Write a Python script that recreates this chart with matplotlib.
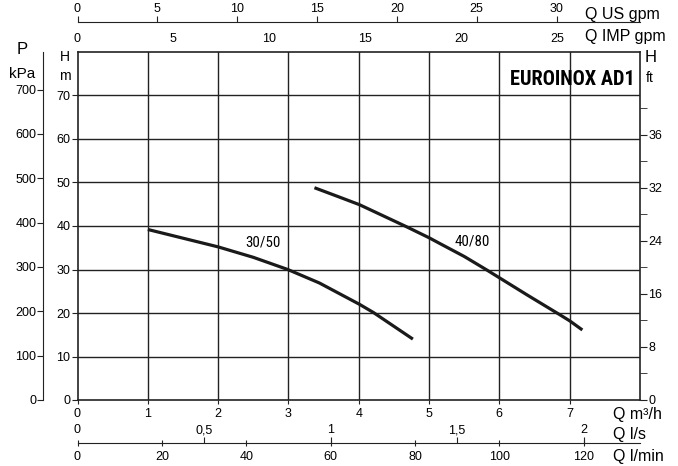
import numpy as np
import matplotlib
matplotlib.use("Agg")
import matplotlib.pyplot as plt
from matplotlib import font_manager as fm

plt.rcParams['font.family'] = ['Liberation Sans', 'DejaVu Sans']

# curve readings, Q in m3/h, H in m
q_3050 = [1.0, 1.5, 2.0, 2.5, 2.99, 3.44, 4.01, 4.21, 4.77]
h_3050 = [39.2, 37.2, 35.2, 32.8, 30.0, 26.9, 22.0, 20.1, 14.0]
q_4080 = [3.37, 3.7, 4.01, 4.67, 5.0, 5.15, 5.5, 5.81, 6.0, 6.4, 6.85, 7.0, 7.18]
h_4080 = [48.8, 46.8, 44.9, 39.9, 37.3, 36.0, 33.0, 30.0, 28.1, 24.1, 19.7, 18.2, 16.1]

m3h_ticks = [0, 1, 2, 3, 4, 5, 6, 7]
us_ticks = [0, 5, 10, 15, 20, 25, 30]
imp_ticks = [0, 5, 10, 15, 20, 25]
ls_ticks = [0.5, 1, 1.5, 2]
ls_labels = ['0,5', '1', '1,5', '2']
lmin_ticks = [0, 20, 40, 60, 80, 100, 120]
h_ticks = [0, 10, 20, 30, 40, 50, 60, 70]
kpa_ticks = [0, 100, 200, 300, 400, 500, 600, 700]
ft_major = [0, 40, 80, 120, 160, 200]
ft_labels = ['0', '8', '16', '24', '32', '36']
ft_minor = [20, 60, 100, 140, 180, 220]

W, H = 678, 466
fig = plt.figure(figsize=(W / 100, H / 100), dpi=100)


def fx(px):
    return px / W


def fy(py):
    return 1 - py / H


#find a narrow font if there is one
def narrow_font(weight='normal'):
    for fam in ['Liberation Sans Narrow', 'Roboto Condensed', 'Open Sans Condensed',
                'Noto Sans Condensed', 'Arial Narrow']:
        try:
            fm.findfont(fm.FontProperties(family=fam, weight=weight), fallback_to_default=False)
            return dict(family=[fam, 'DejaVu Sans'])
        except ValueError:
            pass
    p = fm.findfont(fm.FontProperties(family='DejaVu Sans', stretch='condensed', weight=weight))
    if 'Condensed' in p:
        return dict(family=['DejaVu Sans'], stretch='condensed')
    return dict(family=['Liberation Sans', 'DejaVu Sans'])


#shrink a text until it fits a pixel width
def fit_width(t, width_px):
    r = fig.canvas.get_renderer()
    for _ in range(6):
        w = t.get_window_extent(r).width
        if w <= width_px * 1.03:
            break
        t.set_fontsize(t.get_fontsize() * width_px / w)


left, right, top, bot = 77.5, 640, 52, 400
ax = fig.add_axes([fx(left), fy(bot), fx(right - left), fy(top) - fy(bot)])
ax.set_xlim(0, 8)
ax.set_ylim(0, 80)
lc = '#222222'
for s in ax.spines.values():
    s.set_color(lc)
    s.set_linewidth(1.2)

# grid
for q in range(1, 8):
    ax.axvline(q, color=lc, lw=1.0, zorder=1)
for h in range(10, 80, 10):
    ax.axhline(h, color=lc, lw=1.0, zorder=1)

ax.plot(q_3050, h_3050, color='#1a1a1a', lw=2.3, solid_capstyle='butt', zorder=3)
ax.plot(q_4080, h_4080, color='#1a1a1a', lw=2.3, solid_capstyle='butt', zorder=3)

nf = narrow_font()
nfb = narrow_font('bold')
t1 = ax.text(2.64, 36.2, '30/50', fontsize=13, ha='center', va='center', **nf)
t2 = ax.text(5.61, 36.5, '40/80', fontsize=13, ha='center', va='center', **nf)
t3 = ax.text(7.93, 73.6, 'EUROINOX AD1', fontsize=17, weight='bold',
             ha='right', va='center', zorder=4, **nfb)
fit_width(t1, 35)
fit_width(t2, 35)
fit_width(t3, 126)

# left H m axis
ax.set_yticks(h_ticks)
ax.tick_params(axis='y', direction='out', length=4, labelsize=9, pad=1, color=lc)
ax.set_xticks(m3h_ticks)
ax.tick_params(axis='x', direction='out', length=3, labelsize=9, pad=3, color=lc)

# right ft axis
axr = ax.twinx()
axr.set_ylim(0, 80 * 3.2808)
axr.set_yticks(ft_major)
axr.set_yticklabels(ft_labels)
axr.set_yticks(ft_minor, minor=True)
axr.tick_params(axis='y', which='both', direction='out', length=5, labelsize=9, pad=1, color=lc)
for s in axr.spines.values():
    s.set_visible(False)

# kPa axis
axp = fig.add_axes(ax.get_position())
axp.patch.set_visible(False)
for k in ['top', 'right', 'bottom']:
    axp.spines[k].set_visible(False)
axp.spines['left'].set_position(('outward', 24.5))
axp.spines['left'].set_color(lc)
axp.set_xticks([])
axp.set_ylim(0, 80 * 9.81)
axp.set_yticks(kpa_ticks)
axp.tick_params(axis='y', direction='out', length=4, labelsize=9, pad=1, color=lc)

# top US gpm axis (line with labels above)
axt = fig.add_axes([fx(left), fy(22), fx(right - left), 1e-6])
axt.patch.set_visible(False)
for k in ['left', 'right', 'bottom']:
    axt.spines[k].set_visible(False)
axt.spines['top'].set_color(lc)
axt.set_yticks([])
axt.set_xlim(0, 8 * 4.4029)
axt.xaxis.set_ticks_position('top')
axt.set_xticks(us_ticks)
axt.tick_params(axis='x', direction='out', length=4, labelsize=9, pad=1, color=lc)

# IMP gpm labels below the same line
axi = fig.add_axes([fx(left), fy(22), fx(right - left), 1e-6])
axi.patch.set_visible(False)
for s in axi.spines.values():
    s.set_visible(False)
axi.set_yticks([])
axi.set_xlim(0, 8 * 3.6662)
axi.xaxis.set_ticks_position('bottom')
axi.set_xticks(imp_ticks)
axi.tick_params(axis='x', direction='out', length=0, labelsize=9, pad=8)

# bottom l/min axis
axb = fig.add_axes([fx(left), fy(443), fx(right - left), 1e-6])
axb.patch.set_visible(False)
for k in ['left', 'right', 'top']:
    axb.spines[k].set_visible(False)
axb.spines['bottom'].set_color(lc)
axb.set_yticks([])
axb.set_xlim(0, 8 * 1000 / 60)
axb.set_xticks(lmin_ticks)
axb.tick_params(axis='x', direction='inout', length=5, labelsize=9, pad=3, color=lc)

# l/s labels above it
axs = fig.add_axes([fx(left), fy(443), fx(right - left), 1e-6])
axs.patch.set_visible(False)
for s in axs.spines.values():
    s.set_visible(False)
axs.set_yticks([])
axs.set_xlim(0, 8 / 3.6)
axs.xaxis.set_ticks_position('top')
axs.set_xticks([0] + ls_ticks)
axs.set_xticklabels(['0'] + ls_labels)
axs.tick_params(axis='x', direction='out', length=4, labelsize=9, pad=1, color=lc)
axs.xaxis.get_major_ticks()[0].tick2line.set_visible(False)

# unit labels
uf = 11.5
fig.text(fx(585), fy(14), 'Q US gpm', fontsize=uf, va='center')
fig.text(fx(585), fy(36), 'Q IMP gpm', fontsize=uf, va='center')
fig.text(fx(613), fy(414), 'Q m³/h', fontsize=uf, va='center')
fig.text(fx(613), fy(435), 'Q l/s', fontsize=uf, va='center')
fig.text(fx(613), fy(457), 'Q l/min', fontsize=uf, va='center')
fig.text(fx(22), fy(50), 'P', fontsize=12, ha='center', va='center')
fig.text(fx(22), fy(74), 'kPa', fontsize=11, ha='center', va='center')
fig.text(fx(65), fy(57), 'H', fontsize=10, ha='center', va='center')
fig.text(fx(65), fy(76), 'm', fontsize=10, ha='center', va='center')
fig.text(fx(645), fy(57), 'H', fontsize=12, ha='left', va='center')
fig.text(fx(646), fy(78), 'ft', fontsize=10, ha='left', va='center')

fig.savefig('out.png', dpi=100)
